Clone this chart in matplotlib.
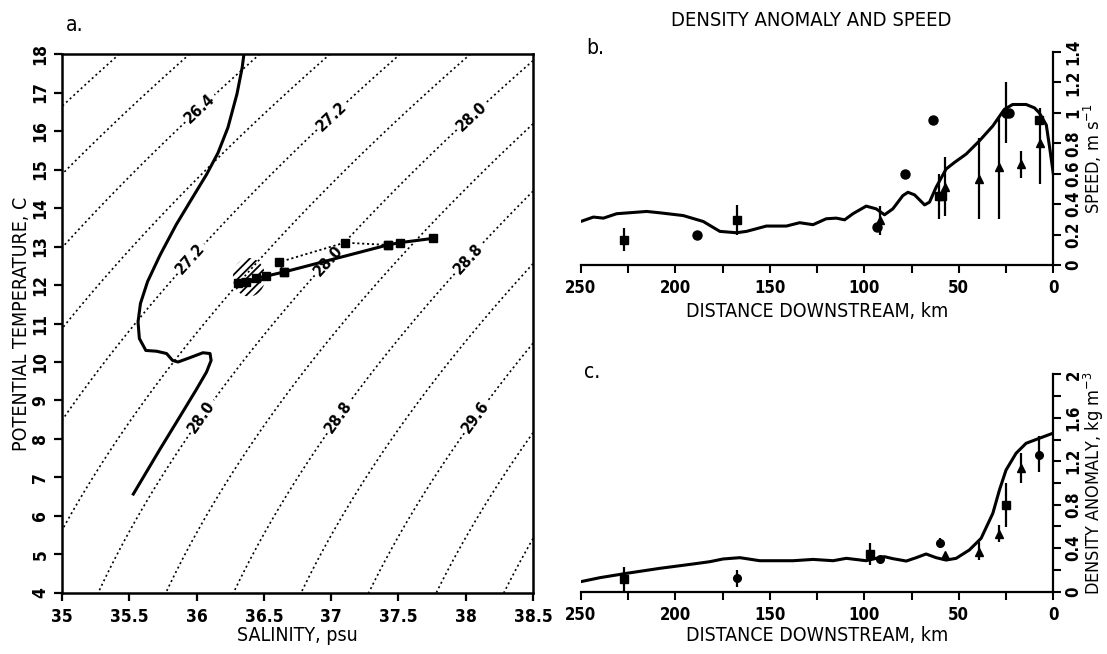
import numpy as np
import matplotlib
matplotlib.use('Agg')
import matplotlib.pyplot as plt
from matplotlib import font_manager
from matplotlib.patches import Ellipse
from matplotlib.ticker import MultipleLocator, FuncFormatter

# use a condensed face if one is installed, else Liberation Sans
fonts = font_manager.fontManager.ttflist
narrow = [f for f in fonts if f.stretch in ('condensed', 'semi-condensed', 'extra-condensed')
          or 'Narrow' in f.name or 'Condensed' in f.name]
if narrow:
    family = narrow[0].name
    plt.rcParams['font.stretch'] = narrow[0].stretch
else:
    family = 'Liberation Sans'
plt.rcParams['font.family'] = [family, 'DejaVu Sans']
plt.rcParams['mathtext.fontset'] = 'custom'
plt.rcParams['mathtext.rm'] = family
plt.rcParams['mathtext.it'] = family
plt.rcParams['hatch.linewidth'] = 1.3

# ---- panel a: T-S diagram ----
plain_levels = [25.6, 26.0, 26.8, 27.6, 28.4, 29.2, 30.0, 30.4]
label_levels = [26.4, 27.2, 28.0, 28.8, 29.6]
label_pos = [(36.02, 16.6), (36.99, 16.43), (38.04, 16.39),
             (35.95, 12.7), (36.95, 12.72), (38.01, 12.7),
             (36.03, 8.61), (37.04, 8.61), (38.06, 8.61)]

ts_sal = [36.352, 36.339, 36.30, 36.233, 36.159, 36.074, 35.968, 35.849, 35.729, 35.636,
          35.583, 35.565, 35.575, 35.623, 35.703, 35.777, 35.822, 35.862, 35.941, 36.047,
          36.10, 36.108, 36.074, 35.994, 35.888, 35.729, 35.53]
ts_temp = [18.0, 17.65, 16.96, 16.09, 15.43, 14.87, 14.26, 13.57, 12.78, 12.09,
           11.52, 11.04, 10.61, 10.30, 10.28, 10.22, 10.04, 10.0, 10.10, 10.24,
           10.22, 10.04, 9.74, 9.26, 8.65, 7.74, 6.57]

obs_sal = [36.31, 36.37, 36.44, 36.516, 36.652, 37.42, 37.51, 37.754]
obs_temp = [12.06, 12.09, 12.17, 12.23, 12.34, 13.04, 13.10, 13.21]
alt_sal = [36.652, 36.61, 37.10, 37.42]
alt_temp = [12.34, 12.59, 13.10, 13.04]

# ---- panel b: speed ----
sp_dist = [250, 243.3, 238.0, 231.0, 215.1, 208.1, 195.8, 185.2, 176.4, 167.6, 162.3,
           151.8, 141.2, 134.2, 127.1, 120.1, 114.8, 110.4, 106.0, 99.0, 93.7, 89.3,
           84.9, 79.6, 76.9, 73.4, 68.1, 65.5, 62.0, 56.7, 52.3, 46.1, 39.1, 32.0,
           25.9, 21.5, 14.4, 10.0, 7.4, 3.7, 1.8, 0]
sp_val = [0.286, 0.315, 0.308, 0.337, 0.352, 0.343, 0.325, 0.286, 0.221, 0.212, 0.221,
          0.256, 0.256, 0.278, 0.265, 0.304, 0.308, 0.297, 0.337, 0.387, 0.369, 0.330,
          0.369, 0.456, 0.478, 0.461, 0.395, 0.413, 0.511, 0.631, 0.674, 0.729, 0.816, 0.914,
          1.023, 1.055, 1.055, 1.033, 1.0, 0.92, 0.76, 0.60]

b_sq_dist = [227.1, 167.3, 60.5, 59.0, 7.6]
b_sq_val = [0.167, 0.293, 0.452, 0.452, 0.955]
b_ci_dist = [188.7, 93.3, 78.3, 63.4, 25.0, 23.3]
b_ci_val = [0.195, 0.25, 0.598, 0.953, 1.0, 1.0]
b_tr_dist = [91.5, 57.2, 39.1, 28.5, 17.1, 7.2]
b_tr_val = [0.293, 0.511, 0.565, 0.642, 0.663, 0.80]
b_bar_dist = [227.1, 167.3, 60.5, 91.5, 57.2, 39.1, 28.5, 25.0, 17.1, 7.2]
b_bar_lo = [0.09, 0.195, 0.30, 0.195, 0.32, 0.30, 0.30, 0.80, 0.57, 0.53]
b_bar_hi = [0.243, 0.395, 0.598, 0.39, 0.707, 0.838, 0.979, 1.20, 0.748, 1.03]

# ---- panel c: density anomaly ----
dn_dist = [250, 239.8, 225.7, 208.1, 190.5, 181.7, 174.7, 165.8, 155.3, 137.7, 127.1,
           116.5, 109.5, 99.0, 93.7, 89.3, 84.9, 77.8, 72.5, 67.3, 62.0, 56.7, 51.4,
           44.4, 38.2, 32.0, 28.5, 25.0, 19.7, 14.4, 7.4, 0]
dn_val = [0.092, 0.129, 0.169, 0.215, 0.255, 0.276, 0.301, 0.313, 0.285, 0.285, 0.297,
          0.285, 0.307, 0.285, 0.307, 0.322, 0.304, 0.282, 0.313, 0.347, 0.313, 0.291, 0.307,
          0.384, 0.491, 0.721, 0.936, 1.12, 1.274, 1.366, 1.412, 1.46]

c_sq_dist = [226.9, 96.8, 25.0]
c_sq_val = [0.117, 0.347, 0.798]
c_ci_dist = [167.1, 91.5, 59.9, 7.6]
c_ci_val = [0.123, 0.301, 0.445, 1.258]
c_tr_dist = [57.2, 39.1, 28.5, 17.1]
c_tr_val = [0.338, 0.368, 0.531, 1.136]
c_bar_dist = [226.9, 167.1, 96.8, 59.9, 39.1, 28.5, 25.0, 17.1, 7.6]
c_bar_lo = [0.0, 0.046, 0.245, 0.40, 0.29, 0.46, 0.598, 0.999, 1.10]
c_bar_hi = [0.23, 0.20, 0.445, 0.49, 0.46, 0.614, 0.998, 1.274, 1.43]


def sigma0(S, T):
    # UNESCO 1980 equation of state at the surface
    rw = (999.842594 + 6.793952e-2 * T - 9.095290e-3 * T**2 + 1.001685e-4 * T**3
          - 1.120083e-6 * T**4 + 6.536332e-9 * T**5)
    A = 8.24493e-1 - 4.0899e-3 * T + 7.6438e-5 * T**2 - 8.2467e-7 * T**3 + 5.3875e-9 * T**4
    B = -5.72466e-3 + 1.0227e-4 * T - 1.6546e-6 * T**2
    C = 4.8314e-4
    return rw + A * S + B * S**1.5 + C * S**2 - 1000.0


fmt_g = FuncFormatter(lambda v, p: '%g' % round(v, 2))
tick_font = 12.5
label_font = 14
dots = [(0, (1.2, 1.8))]

fig = plt.figure(figsize=(11.07, 6.54), dpi=100)
ax_a = fig.add_axes([0.056, 0.0933, 0.4255, 0.8241])
ax_b = fig.add_axes([0.5246, 0.5948, 0.4269, 0.3257])
ax_c = fig.add_axes([0.5246, 0.0953, 0.4269, 0.3322])

# panel a
SS, TT = np.meshgrid(np.linspace(35, 38.5, 300), np.linspace(4, 18, 300))
sig = sigma0(SS, TT)
ax_a.contour(SS, TT, sig, levels=plain_levels, colors='k', linestyles=dots, linewidths=1.2)
cs = ax_a.contour(SS, TT, sig, levels=label_levels, colors='k', linestyles=dots, linewidths=1.2)
clabels = ax_a.clabel(cs, manual=label_pos, fmt='%.1f', fontsize=11.5, inline=True,
                      inline_spacing=4)
for t in clabels:
    t.set_fontweight('bold')
ax_a.add_patch(Ellipse((36.39, 12.2), 0.24, 1.0, facecolor='none', edgecolor='k',
                       linewidth=0, hatch='////'))
ax_a.plot(ts_sal, ts_temp, color='k', lw=2.2)
ax_a.plot(alt_sal, alt_temp, color='k', lw=1.3, ls=(0, (1.2, 1.5)), marker='s', ms=6)
ax_a.plot(obs_sal, obs_temp, color='k', lw=2.2, marker='s', ms=6)
ax_a.set_xlim(35, 38.5)
ax_a.set_ylim(4, 18)
ax_a.xaxis.set_major_locator(MultipleLocator(0.5))
ax_a.yaxis.set_major_locator(MultipleLocator(1))
ax_a.xaxis.set_major_formatter(fmt_g)
ax_a.yaxis.set_major_formatter(fmt_g)
ax_a.tick_params(axis='both', direction='out', length=6, width=1.6, labelsize=tick_font)
ax_a.tick_params(axis='x', pad=5)
ax_a.tick_params(axis='y', labelrotation=90, pad=3)
for lab in ax_a.get_xticklabels() + ax_a.get_yticklabels():
    lab.set_fontweight('bold')
for lab in ax_a.get_yticklabels():
    lab.set_va('center')
for sp in ax_a.spines.values():
    sp.set_linewidth(1.8)
ax_a.set_xlabel('SALINITY, psu', fontsize=label_font)
ax_a.xaxis.set_label_coords(0.5, -0.062)
ax_a.set_ylabel('POTENTIAL TEMPERATURE, C', fontsize=label_font)
ax_a.yaxis.set_label_coords(-0.066, 0.5)

# panels b and c share the same frame style
for ax in (ax_b, ax_c):
    ax.set_xlim(250, 0)
    ax.spines['top'].set_visible(False)
    ax.spines['left'].set_visible(False)
    ax.spines['right'].set_linewidth(1.6)
    ax.spines['bottom'].set_linewidth(1.6)
    ax.yaxis.tick_right()
    ax.yaxis.set_label_position('right')
    ax.xaxis.set_major_locator(MultipleLocator(50))
    ax.xaxis.set_minor_locator(MultipleLocator(25))
    ax.xaxis.set_major_formatter(fmt_g)
    ax.yaxis.set_major_formatter(fmt_g)
    ax.tick_params(which='both', direction='out', length=6, width=1.5, labelsize=12)
    ax.tick_params(axis='x', pad=4)
    ax.tick_params(axis='y', labelrotation=90, pad=2)
    ax.set_xlabel('DISTANCE DOWNSTREAM, km', fontsize=label_font)

ax_b.set_ylim(0, 1.4)
ax_b.yaxis.set_major_locator(MultipleLocator(0.2))
ax_b.plot(sp_dist, sp_val, color='k', lw=2.2)
ax_b.vlines(b_bar_dist, b_bar_lo, b_bar_hi, color='k', lw=1.6)
ax_b.plot(b_sq_dist, b_sq_val, 's', color='k', ms=6)
ax_b.plot(b_ci_dist, b_ci_val, 'o', color='k', ms=6.5)
ax_b.plot(b_tr_dist, b_tr_val, '^', color='k', ms=6)
ax_b.set_ylabel('SPEED, m s$^{-1}$', fontsize=13)
ax_b.yaxis.set_label_coords(1.061, 0.5)
ax_b.xaxis.set_label_coords(0.5, -0.175)

ax_c.set_ylim(0, 2)
ax_c.yaxis.set_major_locator(MultipleLocator(0.4))
ax_c.yaxis.set_minor_locator(MultipleLocator(0.2))
ax_c.plot(dn_dist, dn_val, color='k', lw=2.2)
ax_c.vlines(c_bar_dist, c_bar_lo, c_bar_hi, color='k', lw=1.6)
ax_c.plot(c_sq_dist, c_sq_val, 's', color='k', ms=5.5)
ax_c.plot(c_ci_dist, c_ci_val, 'o', color='k', ms=5.5)
ax_c.plot(c_tr_dist, c_tr_val, '^', color='k', ms=5.5)
ax_c.set_ylabel('DENSITY ANOMALY, kg m$^{-3}$', fontsize=13)
ax_c.yaxis.set_label_coords(1.061, 0.5)
ax_c.xaxis.set_label_coords(0.5, -0.16)

for ax in (ax_b, ax_c):
    for lab in ax.get_xticklabels() + ax.get_yticklabels():
        lab.set_fontweight('bold')
    for lab in ax.get_yticklabels():
        lab.set_va('center')

fig.text(66 / 1107, 1 - 25 / 654, 'a.', fontsize=15, ha='left', va='center')
fig.text(586 / 1107, 1 - 48 / 654, 'b.', fontsize=15, ha='left', va='center')
fig.text(584 / 1107, 1 - 372 / 654, 'c.', fontsize=15, ha='left', va='center')
fig.text(811 / 1107, 1 - 21 / 654, 'DENSITY ANOMALY AND SPEED', fontsize=14.5,
         ha='center', va='center')

fig.savefig('out.png', dpi=100)
